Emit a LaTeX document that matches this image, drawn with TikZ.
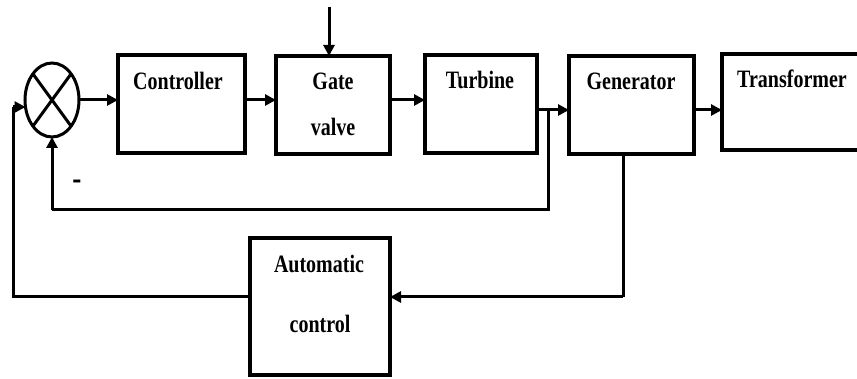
\documentclass[tikz,border=0pt]{standalone}
\usepackage{fontspec}
\setmainfont{Liberation Serif}[FakeStretch=0.8]
\usetikzlibrary{shapes.geometric,arrows.meta}
\tikzset{
  x=1pt,y=-1pt,
  box/.style={draw,line width=3.5pt,inner sep=0pt,outer sep=0pt,anchor=north west},
  conn/.style={line width=3pt,-{Triangle[length=11pt,width=11pt]}},
  wire/.style={line width=3pt},
  lbl/.style={anchor=base,inner sep=0pt,font=\fontsize{25}{30}\selectfont\bfseries}
}
\begin{document}
\begin{tikzpicture}
\useasboundingbox (0,0) rectangle (857,379);
\clip (0,0) rectangle (857,379);
% junction
\node[draw,ellipse,line width=3pt,minimum width=54pt,minimum height=74pt,inner sep=0pt,outer sep=0pt] (sum) at (52,100) {};
\draw[line width=3pt] (sum.north west) -- (sum.south east) (sum.north east) -- (sum.south west);
% boxes
\node[box,minimum width=127pt,minimum height=98pt] (ctrl) at (118,55) {};
\node[box,minimum width=114pt,minimum height=98pt] (gate) at (276,56) {};
\node[box,minimum width=112pt,minimum height=98pt] (turb) at (425,55) {};
\node[box,minimum width=125pt,minimum height=98pt] (gen) at (569,56) {};
\node[box,minimum width=160pt,minimum height=96pt] (trans) at (722,54) {};
\node[box,minimum width=140pt,minimum height=137pt] (auto) at (250,238) {};
% labels
\node[lbl] (tc) at (178,90) {Controller};
\node[lbl] (tg1) at (333,90) {Gate};
\node[lbl] (tg2) at (333,136) {valve};
\node[lbl] (tt) at (480,89) {Turbine};
\node[lbl] (tgn) at (631,90) {Generator};
\node[lbl] (ttr) at (792,88) {Transformer};
\node[lbl] (ta1) at (319,273) {Automatic};
\node[lbl] (ta2) at (320,333) {control};
\node[lbl,font=\fontsize{34}{40}\selectfont\bfseries] (minus) at (77,190) {-};
% coordinates
\coordinate (top) at (329,7);
\coordinate (row) at (0,110);
\coordinate (br) at (548,110);
\coordinate (brd) at (548,210);
\coordinate (fbl) at (52,210);
\coordinate (gd) at (623,297);
\coordinate (lft) at (13,297);
\coordinate (lftu) at (13,107);
\coordinate (ein) at (25.5,107);
% connectors
\draw[conn] (sum.east) -- (ctrl.west |- sum.east);
\draw[conn] (ctrl.east |- sum.east) -- (gate.west |- sum.east);
\draw[conn] (gate.east |- sum.east) -- (turb.west |- sum.east);
\draw[conn] (turb.east |- row) -- (gen.west |- row);
\draw[conn] (gen.east |- row) -- (trans.west |- row);
\draw[conn] (top) -- (gate.north -| top);
\draw[wire] (br) -- (brd) -- (fbl);
\draw[conn] (fbl) -- (sum.south);
\draw[wire] (gen.south -| gd) -- (gd);
\draw[conn] (gd) -- (auto.east |- gd);
\draw[wire] (auto.west |- lft) -- (lft) -- (lftu);
\draw[conn] (lftu) -- (ein);
\end{tikzpicture}
\end{document}
